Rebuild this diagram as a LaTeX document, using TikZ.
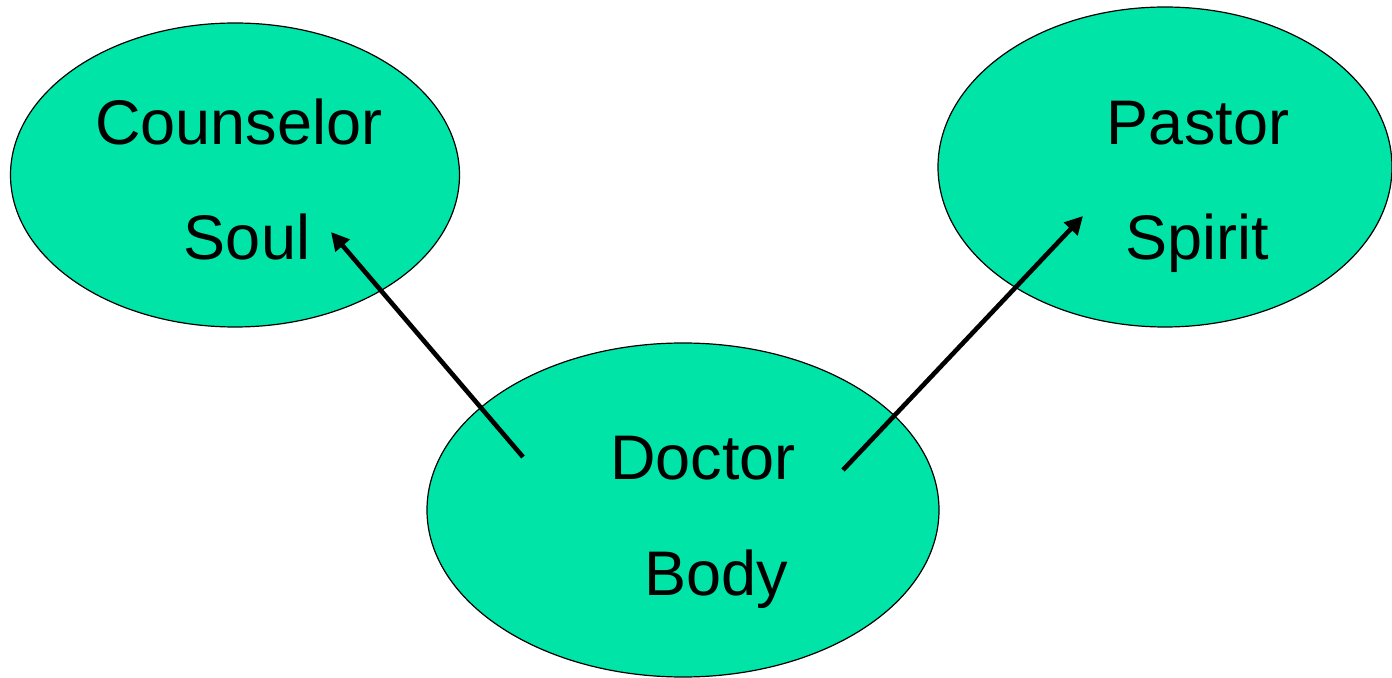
\documentclass[tikz,border=0pt]{standalone}
\usepackage{fontspec}
\setmainfont{Liberation Sans}
\usetikzlibrary{shapes.geometric,arrows.meta}
\definecolor{teal}{RGB}{0,228,168}
\begin{document}
\begin{tikzpicture}[x=0.5pt,y=-0.5pt,
  blob/.style={ellipse,draw=black,line width=0.6pt,fill=teal,inner sep=0pt},
  lbl/.style={anchor=base,inner sep=0pt,font=\fontsize{31.5pt}{36pt}\selectfont},
  conn/.style={line width=2.3pt,-{Triangle[length=9pt,width=9pt]}}]
\useasboundingbox (0,0) rectangle (1392,678);
\node[blob,minimum width=224.5pt,minimum height=152pt] (soulE) at (235,175) {};
\node[blob,minimum width=227pt,minimum height=160pt] (spiritE) at (1165,167) {};
\node[blob,minimum width=256pt,minimum height=167pt] (bodyE) at (683,510) {};
\node[lbl] (counselor) at (239,145) {Counselor};
\node[lbl] (soul) at (247,260) {Soul};
\node[lbl] (pastor) at (1198,145) {Pastor};
\node[lbl] (spirit) at (1197,260) {Spirit};
\node[lbl] (doctor) at (703,480) {Doctor};
\node[lbl] (body) at (716,595) {Body};
\coordinate (s1) at (523,457);
\coordinate (e1) at (331,232);
\coordinate (s2) at (843,470);
\coordinate (e2) at (1083,216);
\draw[conn] (s1) -- (e1);
\draw[conn] (s2) -- (e2);
\end{tikzpicture}
\end{document}
